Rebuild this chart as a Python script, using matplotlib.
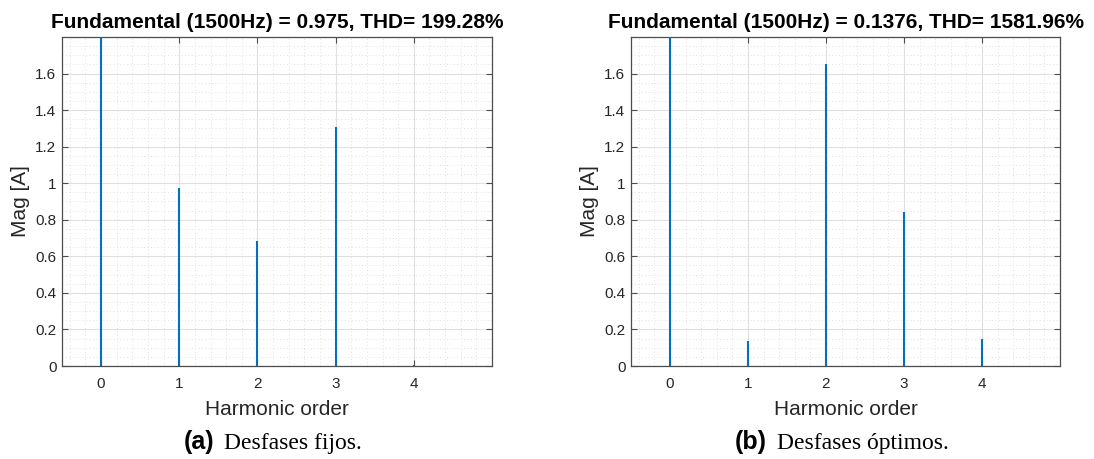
import matplotlib
matplotlib.use("Agg")
import matplotlib.pyplot as plt
from matplotlib.ticker import MultipleLocator

plt.rcParams['font.family'] = ['Liberation Sans', 'DejaVu Sans']

orders = [0, 1, 2, 3, 4]
mag_fixed = [2.5, 0.975, 0.685, 1.31, 0.003]
mag_optimal = [2.5, 0.1376, 1.65, 0.845, 0.15]
titles = ["Fundamental (1500Hz) = 0.975, THD= 199.28%",
          "Fundamental (1500Hz) = 0.1376, THD= 1581.96%"]
caption_tags = ["(a)", "(b)"]
caption_texts = ["Desfases fijos.", "Desfases óptimos."]
xticks = [0, 1, 2, 3, 4]
yticks = [0, 0.2, 0.4, 0.6, 0.8, 1.0, 1.2, 1.4, 1.6]
ytick_labels = ["0", "0.2", "0.4", "0.6", "0.8", "1", "1.2", "1.4", "1.6"]

W, H = 1094, 459
fig = plt.figure(figsize=(W / 100, H / 100), dpi=100)

axes_px = [(62, 37, 492, 366), (631, 37, 1060, 366)]
bar_color = '#0072BD'
txt = '#262626'

for i, (series, box) in enumerate(zip([mag_fixed, mag_optimal], axes_px)):
    l, t, r, b = box
    ax = fig.add_axes([l / W, 1 - b / H, (r - l) / W, (b - t) / H])
    ax.vlines(orders, 0, series, color=bar_color, lw=1.5, zorder=3)
    ax.set_xlim(-0.5, 5)
    ax.set_ylim(0, 1.8)
    ax.set_xticks(xticks)
    ax.set_yticks(yticks)
    ax.set_yticklabels(ytick_labels)
    ax.xaxis.set_minor_locator(MultipleLocator(0.2))
    ax.yaxis.set_minor_locator(MultipleLocator(0.05))
    ax.grid(True, which='major', color='#e0e0e0', lw=0.8, zorder=0)
    ax.grid(True, which='minor', color='#e0e0e0', lw=0.7, linestyle=(0, (1, 2.5)), zorder=0)
    ax.tick_params(which='major', direction='in', top=True, right=True, length=4,
                   width=0.8, color='#4d4d4d', labelsize=11, labelcolor=txt)
    ax.tick_params(axis='x', pad=8)
    ax.tick_params(axis='y', pad=4)
    ax.tick_params(which='minor', length=0)
    for s in ax.spines.values():
        s.set_color('#4d4d4d')
        s.set_linewidth(0.9)
    ax.set_title(titles[i], fontsize=15, fontweight='bold', color='black', pad=6.5)
    ax.set_xlabel("Harmonic order", fontsize=15, color=txt)
    ax.xaxis.label.set_va('baseline')
    ax.xaxis.set_label_coords(0.5, -(415 - b) / (b - t))
    ax.set_ylabel("Mag [A]", fontsize=15, color=txt)
    ax.yaxis.set_label_coords(-32 / (r - l), 0.5)

    cx = (l + r) / 2 - 4
    tag = fig.text(cx / W, 1 - 449 / H, caption_tags[i], fontsize=18, fontweight='bold',
                   family=['Liberation Sans Narrow', 'Liberation Sans', 'DejaVu Sans'],
                   ha='left', va='baseline', color='black')
    body = fig.text(cx / W, 1 - 449 / H, caption_texts[i], fontsize=17,
                    family=['Liberation Serif', 'DejaVu Serif'], ha='left', va='baseline',
                    color='black')
    renderer = fig.canvas.get_renderer()
    wt = tag.get_window_extent(renderer).width
    wb = body.get_window_extent(renderer).width
    gap = 10
    total = wt + gap + wb
    x0 = cx - total / 2
    tag.set_x(x0 / W)
    body.set_x((x0 + wt + gap) / W)

fig.savefig("out.png", dpi=100)
